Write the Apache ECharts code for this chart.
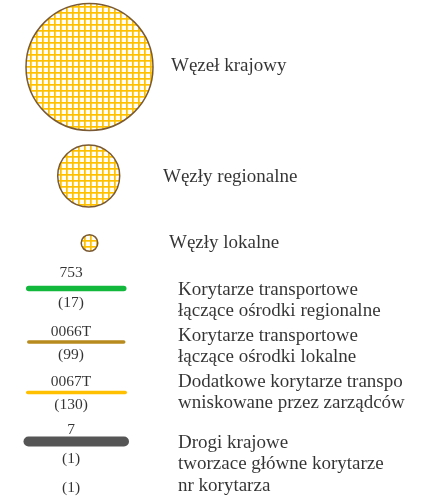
<!DOCTYPE html>
<html><head><meta charset="utf-8">
<script src="https://cdn.jsdelivr.net/npm/echarts@6/dist/echarts.min.js"></script>
<style>html,body{margin:0;padding:0;background:#fff}#c{width:423px;height:498px}</style>
</head><body><div id="c"></div>
<script>
// ---- data ----
const nodeLabels = ['Węzeł krajowy', 'Węzły regionalne', 'Węzły lokalne'];
const corridorCodes = ['753', '0066T', '0067T', '7'];
const corridorCounts = ['(17)', '(99)', '(130)', '(1)'];
const corridorLabels = [
  ['Korytarze transportowe', 'łączące ośrodki regionalne'],
  ['Korytarze transportowe', 'łączące ośrodki lokalne'],
  ['Dodatkowe korytarze transpo', 'wniskowane przez zarządców'],
  ['Drogi krajowe', 'tworzace główne korytarze', 'nr korytarza']
];
const extraCount = '(1)';

// ---- layout / style ----
const nodeLayout = [
  {cx: 89.5, cy: 67, r: 63.5, tx: 171, ty: 66},
  {cx: 88.7, cy: 176, r: 31, tx: 163, ty: 177},
  {cx: 89.5, cy: 243, r: 8.3, tx: 169, ty: 243}
];
const lineLayout = [
  {x1: 26, x2: 126.5, y: 288.5, w: 5.5, color: '#12B83C', codeY: 273, countY: 302.5},
  {x1: 27, x2: 125.5, y: 342, w: 3.5, color: '#B88B1E', codeY: 331.5, countY: 355},
  {x1: 26, x2: 127, y: 392.5, w: 3.5, color: '#FFC000', codeY: 382, countY: 404.5},
  {x1: 23.5, x2: 129, y: 441.5, w: 10, color: '#555555', codeY: 429.5, countY: 459}
];
const descX = 178, descY = [290, 336, 382, 443], descLH = 21.5;
const extraY = 488, numX = 71;
const serif = '"Liberation Serif", "Times New Roman", serif';

// hatch pattern
const pc = document.createElement('canvas');
pc.width = 6; pc.height = 6;
const g = pc.getContext('2d');
g.fillStyle = '#FFFDF5'; g.fillRect(0, 0, 6, 6);
g.fillStyle = '#FFC000'; g.fillRect(0, 0, 6, 1.7); g.fillRect(0, 0, 1.7, 6);

const series = [];
// nodes (custom series so the hatch is not scaled)
series.push({
  type: 'custom', silent: true,
  data: nodeLayout.map(n => [n.cx, n.cy, n.r]),
  renderItem: function (params, api) {
    const p = api.coord([api.value(0), api.value(1)]);
    const r = api.value(2);
    return {
      type: 'circle',
      shape: {cx: p[0], cy: p[1], r: r},
      style: {fill: {image: pc, repeat: 'repeat'}, stroke: '#7A5A34', lineWidth: 1.5}
    };
  }
});
// corridor lines (round caps: endpoints inset by half width)
lineLayout.forEach((l) => {
  series.push({
    type: 'line', silent: true, symbol: 'none',
    data: [[l.x1 + l.w / 2, l.y], [l.x2 - l.w / 2, l.y]],
    lineStyle: {color: l.color, width: l.w, cap: 'round'}
  });
});
// texts
function textSeries(items, fontSize, pos) {
  return {
    type: 'scatter', silent: true, symbolSize: 0,
    data: items.map(t => ({value: [t.x, t.y], label: {formatter: t.s}})),
    label: {show: true, position: pos, distance: 0, color: '#000', fontFamily: serif, fontSize: fontSize}
  };
}
const leftTexts = [];
nodeLabels.forEach((s, i) => leftTexts.push({x: nodeLayout[i].tx, y: nodeLayout[i].ty, s}));
corridorLabels.forEach((lines, i) => lines.forEach((s, j) => leftTexts.push({x: descX, y: descY[i] + j * descLH, s})));
series.push(textSeries(leftTexts, 19, 'right'));
const numTexts = [];
corridorCodes.forEach((s, i) => numTexts.push({x: numX, y: lineLayout[i].codeY, s}));
corridorCounts.forEach((s, i) => numTexts.push({x: numX, y: lineLayout[i].countY, s}));
numTexts.push({x: numX, y: extraY, s: extraCount});
series.push(textSeries(numTexts, 15.5, 'inside'));

const chart = echarts.init(document.getElementById('c'), null, {renderer: 'canvas'});
chart.setOption({
  animation: false,
  backgroundColor: '#fff',
  grid: {left: 0, right: 0, top: 0, bottom: 0},
  xAxis: {type: 'value', min: 0, max: 423, show: false},
  yAxis: {type: 'value', min: 0, max: 498, inverse: true, show: false},
  series
});
</script></body></html>
